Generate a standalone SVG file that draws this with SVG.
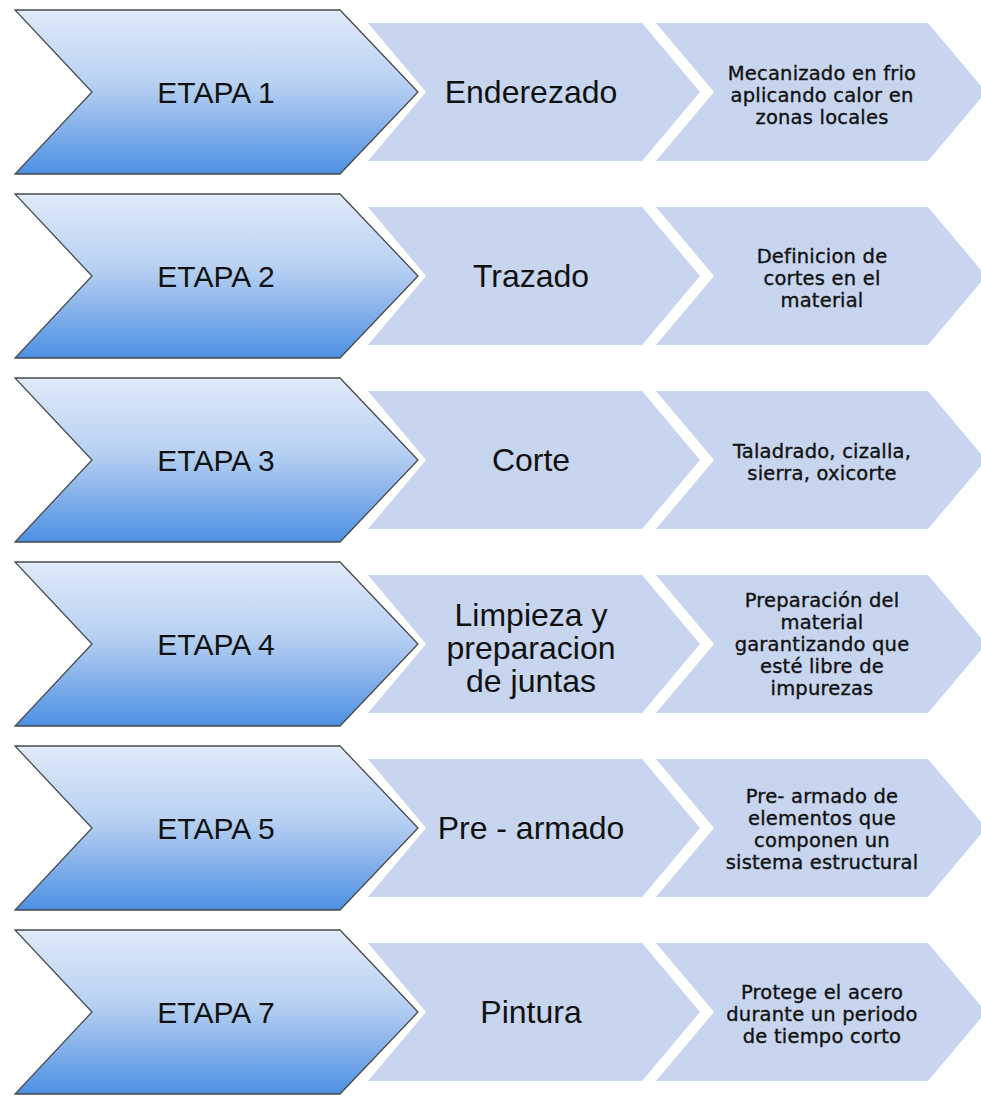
<svg xmlns="http://www.w3.org/2000/svg" xmlns:xlink="http://www.w3.org/1999/xlink" width="981" height="1097" viewBox="0 0 981 1097">
<defs>
<linearGradient id="gDark" x1="0" y1="0" x2="0" y2="1">
<stop offset="0" stop-color="#e0ebf9"/>
<stop offset="0.45" stop-color="#b8d1f2"/>
<stop offset="1" stop-color="#4d90e3"/>
</linearGradient>
<path id="dark" d="M15,0 H340 L418,82 L340,164 H15 L92,82 Z"/>
<path id="mid" d="M368,13 H642 L700,82 L642,151 H368 L426,82 Z"/>
<path id="third" d="M656,13 H928 L986,82 L928,151 H656 L714,82 Z"/>
</defs>
<style>
.dk{fill:url(#gDark);stroke:#4a4a4a;stroke-width:1.3}
.lt{fill:#c7d5ee}
.t1{font-family:"Liberation Sans",Arial,sans-serif;font-size:30px;fill:#111;text-anchor:middle}
.t2{font-family:"Liberation Sans",Arial,sans-serif;font-size:32px;fill:#111;text-anchor:middle}
.t3{font-family:"DejaVu Sans",Verdana,sans-serif;font-size:19.5px;letter-spacing:0.2px;fill:#111;stroke:#111;stroke-width:0.35;text-anchor:middle}
</style>
<rect width="981" height="1097" fill="#ffffff"/>
<g id="connectors"/>

<g id="row1" transform="translate(0,10)">
<g id="r1-third"><use xlink:href="#third" class="lt"/>
<text class="t3"><tspan x="822" y="69.5">Mecanizado en frio</tspan><tspan x="822" y="91.5">aplicando calor en</tspan><tspan x="822" y="113.5">zonas locales</tspan></text></g>
<g id="r1-mid"><use xlink:href="#mid" class="lt"/><text class="t2" x="531" y="93">Enderezado</text></g>
<g id="r1-etapa"><use xlink:href="#dark" class="dk"/><text class="t1" x="216" y="93">ETAPA 1</text></g>
</g>

<g id="row2" transform="translate(0,194)">
<g id="r2-third"><use xlink:href="#third" class="lt"/>
<text class="t3"><tspan x="822" y="68.5">Definicion de</tspan><tspan x="822" y="90.5">cortes en el</tspan><tspan x="822" y="112.5">material</tspan></text></g>
<g id="r2-mid"><use xlink:href="#mid" class="lt"/><text class="t2" x="531" y="93">Trazado</text></g>
<g id="r2-etapa"><use xlink:href="#dark" class="dk"/><text class="t1" x="216" y="93">ETAPA 2</text></g>
</g>

<g id="row3" transform="translate(0,378)">
<g id="r3-third"><use xlink:href="#third" class="lt"/>
<text class="t3"><tspan x="822" y="79.5">Taladrado, cizalla,</tspan><tspan x="822" y="101.5">sierra, oxicorte</tspan></text></g>
<g id="r3-mid"><use xlink:href="#mid" class="lt"/><text class="t2" x="531" y="93">Corte</text></g>
<g id="r3-etapa"><use xlink:href="#dark" class="dk"/><text class="t1" x="216" y="93">ETAPA 3</text></g>
</g>

<g id="row4" transform="translate(0,562)">
<g id="r4-third"><use xlink:href="#third" class="lt"/>
<text class="t3"><tspan x="822" y="44.5">Preparación del</tspan><tspan x="822" y="66.5">material</tspan><tspan x="822" y="88.5">garantizando que</tspan><tspan x="822" y="110.5">esté libre de</tspan><tspan x="822" y="132.5">impurezas</tspan></text></g>
<g id="r4-mid"><use xlink:href="#mid" class="lt"/>
<text class="t2"><tspan x="531" y="64">Limpieza y</tspan><tspan x="531" y="97">preparacion</tspan><tspan x="531" y="130">de juntas</tspan></text></g>
<g id="r4-etapa"><use xlink:href="#dark" class="dk"/><text class="t1" x="216" y="93">ETAPA 4</text></g>
</g>

<g id="row5" transform="translate(0,746)">
<g id="r5-third"><use xlink:href="#third" class="lt"/>
<text class="t3"><tspan x="822" y="56.5">Pre- armado de</tspan><tspan x="822" y="78.5">elementos que</tspan><tspan x="822" y="100.5">componen un</tspan><tspan x="822" y="122.5">sistema estructural</tspan></text></g>
<g id="r5-mid"><use xlink:href="#mid" class="lt"/><text class="t2" x="531" y="93">Pre - armado</text></g>
<g id="r5-etapa"><use xlink:href="#dark" class="dk"/><text class="t1" x="216" y="93">ETAPA 5</text></g>
</g>

<g id="row6" transform="translate(0,930)">
<g id="r6-third"><use xlink:href="#third" class="lt"/>
<text class="t3"><tspan x="822" y="68.5">Protege el acero</tspan><tspan x="822" y="90.5">durante un periodo</tspan><tspan x="822" y="112.5">de tiempo corto</tspan></text></g>
<g id="r6-mid"><use xlink:href="#mid" class="lt"/><text class="t2" x="531" y="93">Pintura</text></g>
<g id="r6-etapa"><use xlink:href="#dark" class="dk"/><text class="t1" x="216" y="93">ETAPA 7</text></g>
</g>
</svg>
